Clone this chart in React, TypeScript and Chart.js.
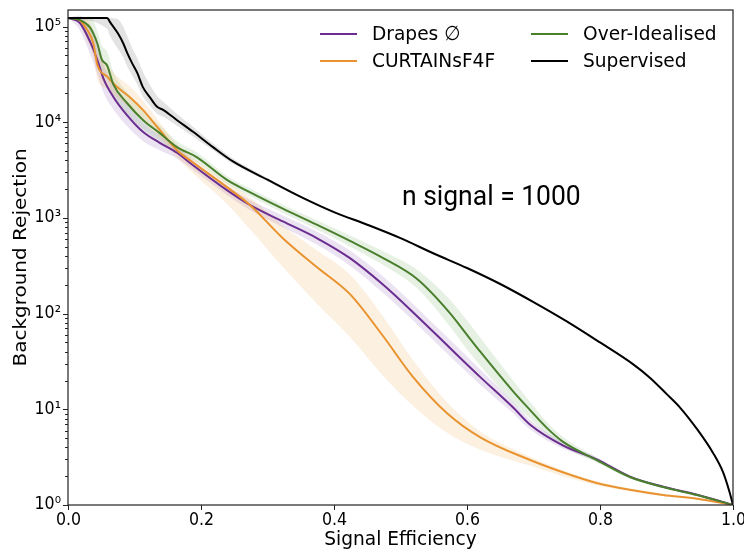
import React, { useEffect, useRef } from "react";
import { Chart, registerables } from "chart.js";

Chart.register(...registerables);

// ---------- data ----------
// Supervised (black)
const supX = [0, 0.059, 0.063, 0.075, 0.083, 0.089, 0.096, 0.104, 0.113, 0.123, 0.134, 0.143, 0.164, 0.188, 0.218, 0.248, 0.3, 0.35, 0.4, 0.45, 0.5, 0.55, 0.6, 0.65, 0.7, 0.75, 0.8, 0.85, 0.875, 0.9, 0.92, 0.946, 0.97, 0.985, 0.995, 1.0];
const supY = [123000, 123000, 112000, 85000, 67000, 53000, 42000, 33000, 23000, 18300, 14500, 13500, 10500, 7950, 5500, 3900, 2510, 1660, 1150, 850, 615, 425, 300, 204, 132, 83, 50, 29.5, 21.4, 14.5, 10.5, 6.2, 3.5, 2.2, 1.35, 1];
const supDown = [1, 1.3, 1.4, 1.45, 1.4, 1.38, 1.35, 1.32, 1.25, 1.22, 1.18, 1.18, 1.14, 1.12, 1.08, 1.06, 1.04, 1.03, 1.02, 1.02, 1.02, 1.02, 1.02, 1.02, 1.02, 1.02, 1.02, 1.02, 1.02, 1.02, 1.02, 1.01, 1.01, 1.01, 1.0, 1.0];
const supUp = [1, 1, 1.1, 1.4, 1.5, 1.5, 1.45, 1.42, 1.45, 1.35, 1.3, 1.22, 1.16, 1.13, 1.09, 1.07, 1.04, 1.03, 1.02, 1.02, 1.02, 1.02, 1.02, 1.02, 1.02, 1.02, 1.02, 1.02, 1.02, 1.02, 1.02, 1.01, 1.01, 1.01, 1.0, 1.0];

// Over-Idealised (green)
const ovX = [0, 0.018, 0.033, 0.044, 0.051, 0.059, 0.068, 0.089, 0.113, 0.138, 0.164, 0.194, 0.239, 0.274, 0.323, 0.374, 0.424, 0.474, 0.525, 0.574, 0.6, 0.62, 0.669, 0.695, 0.72, 0.744, 0.795, 0.845, 0.895, 0.946, 1.0];
const ovY = [123000, 117000, 98000, 67000, 45000, 39000, 25000, 15800, 10500, 7700, 5500, 4300, 2500, 1850, 1250, 850, 575, 380, 230, 102, 60, 40, 15.5, 9.8, 6.4, 4.6, 2.95, 1.96, 1.54, 1.27, 1];
const ovErr = [1, 1.05, 1.3, 1.35, 1.4, 1.4, 1.35, 1.3, 1.25, 1.2, 1.15, 1.12, 1.1, 1.1, 1.1, 1.12, 1.14, 1.18, 1.25, 1.38, 1.42, 1.4, 1.3, 1.22, 1.16, 1.12, 1.06, 1.04, 1.02, 1.01, 1];

// Drapes (purple)
const drX = [0, 0.006, 0.018, 0.033, 0.044, 0.053, 0.068, 0.089, 0.113, 0.138, 0.164, 0.188, 0.239, 0.274, 0.323, 0.374, 0.424, 0.474, 0.525, 0.574, 0.62, 0.669, 0.695, 0.744, 0.795, 0.845, 0.895, 0.946, 1.0];
const drY = [123000, 120000, 109000, 70000, 45000, 29000, 18500, 11800, 7900, 6100, 4800, 3550, 1950, 1360, 920, 617, 380, 200, 94, 44, 21.7, 10.5, 6.9, 4.2, 3.0, 1.98, 1.55, 1.28, 1];
const drErr = [1, 1.05, 1.2, 1.35, 1.4, 1.4, 1.35, 1.3, 1.25, 1.2, 1.15, 1.12, 1.12, 1.13, 1.15, 1.17, 1.2, 1.22, 1.22, 1.22, 1.2, 1.15, 1.12, 1.08, 1.05, 1.03, 1.02, 1.01, 1];

// CURTAINsF4F (orange)
const cuX = [0, 0.014, 0.029, 0.038, 0.044, 0.059, 0.074, 0.093, 0.113, 0.138, 0.164, 0.188, 0.239, 0.274, 0.323, 0.374, 0.424, 0.474, 0.519, 0.57, 0.62, 0.695, 0.744, 0.795, 0.845, 0.895, 0.946, 1.0];
const cuY = [123000, 120000, 92000, 67000, 40000, 30000, 23300, 18300, 13400, 8300, 5100, 3800, 2100, 1360, 615, 307, 160, 58, 21.7, 9.1, 5.1, 2.95, 2.2, 1.7, 1.44, 1.27, 1.16, 1];
const cuUp = [1, 1.05, 1.3, 1.35, 1.4, 1.35, 1.3, 1.3, 1.25, 1.2, 1.15, 1.12, 1.12, 1.2, 1.35, 1.5, 1.6, 1.6, 1.5, 1.3, 1.15, 1.08, 1.05, 1.04, 1.03, 1.02, 1.01, 1];
const cuDown = [1, 1.05, 1.3, 1.35, 1.4, 1.35, 1.3, 1.3, 1.25, 1.2, 1.2, 1.3, 1.5, 1.8, 2.0, 2.4, 2.8, 2.6, 2.0, 1.6, 1.35, 1.15, 1.1, 1.06, 1.04, 1.02, 1.01, 1];

const seriesNames = ["Drapes ∅", "CURTAINsF4F", "Over-Idealised", "Supervised"];
const xTickValues = [0, 0.2, 0.4, 0.6, 0.8, 1.0];
const xTickLabels = ["0.0", "0.2", "0.4", "0.6", "0.8", "1.0"];
const yTickValues = [1, 10, 100, 1000, 10000, 100000];
const yTickLabels = ["10⁰", "10¹", "10²", "10³", "10⁴", "10⁵"];
const xTitle = "Signal Efficiency";
const yTitle = "Background Rejection";
const annotation = "n signal = 1000";

// ---------- styles ----------
const C_PURPLE = "#6b2d8f";
const C_ORANGE = "#e8932f";
const C_GREEN = "#4a7f2d";
const C_BLACK = "#000000";
const SX = 0.93;
const FONT = "'DejaVu Sans', sans-serif";

const pts = (xs: number[], ys: number[]) => xs.map((x, i) => ({ x, y: ys[i] }));
const mul = (xs: number[], ys: number[], f: number[]) => xs.map((x, i) => ({ x, y: ys[i] * f[i] }));
const div = (xs: number[], ys: number[], f: number[]) => xs.map((x, i) => ({ x, y: ys[i] / f[i] }));

function drawText(ctx: CanvasRenderingContext2D, s: string, x: number, y: number, font: string, align: CanvasTextAlign, baseline: CanvasTextBaseline, sx = SX) {
  ctx.save();
  ctx.translate(x, y);
  ctx.scale(sx, 1);
  ctx.font = font;
  ctx.textAlign = align;
  ctx.textBaseline = baseline;
  ctx.fillStyle = "#000";
  ctx.fillText(s, 0, 0);
  ctx.restore();
}

const decor = {
  id: "decor",
  afterDraw(chart: any) {
    const ctx: CanvasRenderingContext2D = chart.ctx;
    const { left, right, top, bottom } = chart.chartArea;
    const xs = chart.scales.x;
    const ys = chart.scales.y;
    ctx.save();
    ctx.strokeStyle = "#222";
    ctx.lineWidth = 1.2;
    ctx.strokeRect(left, top, right - left, bottom - top);
    ctx.lineWidth = 1;
    // x ticks
    xTickValues.forEach((v, i) => {
      const px = Math.round(xs.getPixelForValue(v)) + 0.5;
      ctx.beginPath();
      ctx.moveTo(px, bottom);
      ctx.lineTo(px, bottom + 5);
      ctx.stroke();
      drawText(ctx, xTickLabels[i], px, bottom + 7, `17px ${FONT}`, "center", "top");
    });
    // y minor + major ticks
    for (let n = 0; n <= 5; n++) {
      for (let m = 1; m <= 9; m++) {
        const v = m * Math.pow(10, n);
        if (v > ys.max) break;
        const py = Math.round(ys.getPixelForValue(v)) + 0.5;
        const len = m === 1 ? 5 : 3;
        ctx.beginPath();
        ctx.moveTo(left - len, py);
        ctx.lineTo(left, py);
        ctx.stroke();
      }
    }
    yTickValues.forEach((v, i) => {
      const py = ys.getPixelForValue(v);
      drawText(ctx, yTickLabels[i], left - 7, py, `17px ${FONT}`, "right", "middle");
    });
    // axis titles
    drawText(ctx, xTitle, (left + right) / 2, 540, `20px ${FONT}`, "center", "middle");
    ctx.save();
    ctx.translate(21, (top + bottom) / 2);
    ctx.rotate(-Math.PI / 2);
    ctx.scale(1, 0.88);
    ctx.font = `20px ${FONT}`;
    ctx.textAlign = "center";
    ctx.textBaseline = "middle";
    ctx.fillStyle = "#000";
    ctx.fillText(yTitle, 0, 0);
    ctx.restore();
    // annotation
    drawText(ctx, annotation, 402, 205, "27px Roboto, sans-serif", "left", "alphabetic", 0.98);
    // legend
    const cols = [320, 531];
    const rows = [34, 61];
    const items = [
      { name: seriesNames[0], color: C_PURPLE, c: 0, r: 0 },
      { name: seriesNames[1], color: C_ORANGE, c: 0, r: 1 },
      { name: seriesNames[2], color: C_GREEN, c: 1, r: 0 },
      { name: seriesNames[3], color: C_BLACK, c: 1, r: 1 },
    ];
    items.forEach((it) => {
      const x0 = cols[it.c];
      const y0 = rows[it.r];
      ctx.strokeStyle = it.color;
      ctx.lineWidth = 2;
      ctx.beginPath();
      ctx.moveTo(x0, y0);
      ctx.lineTo(x0 + 37, y0);
      ctx.stroke();
      drawText(ctx, it.name, x0 + 52, y0 + 1, `20px ${FONT}`, "left", "middle");
    });
    ctx.restore();
  },
};

function lineDs(label: string, data: any[], color: string, order: number) {
  return {
    label,
    data,
    borderColor: color,
    backgroundColor: color,
    borderWidth: 2,
    pointRadius: 0,
    fill: false,
    cubicInterpolationMode: "monotone",
    order,
  };
}
function bandDs(label: string, up: any[], down: any[], color: string) {
  return [
    { label: label + " up", data: up, borderWidth: 0, borderColor: "transparent", backgroundColor: color, pointRadius: 0, fill: "+1", cubicInterpolationMode: "monotone", order: 10 },
    { label: label + " down", data: down, borderWidth: 0, borderColor: "transparent", backgroundColor: color, pointRadius: 0, fill: false, cubicInterpolationMode: "monotone", order: 10 },
  ];
}

export default function App() {
  const ref = useRef<HTMLCanvasElement | null>(null);
  useEffect(() => {
    if (!ref.current) return;
    const datasets: any[] = [
      lineDs(seriesNames[0], pts(drX, drY), C_PURPLE, 4),
      lineDs(seriesNames[1], pts(cuX, cuY), C_ORANGE, 3),
      lineDs(seriesNames[2], pts(ovX, ovY), C_GREEN, 2),
      lineDs(seriesNames[3], pts(supX, supY), C_BLACK, 1),
      ...bandDs("sup", mul(supX, supY, supUp), div(supX, supY, supDown), "rgba(0,0,0,0.11)"),
      ...bandDs("cu", mul(cuX, cuY, cuUp), div(cuX, cuY, cuDown), "rgba(240,165,80,0.17)"),
      ...bandDs("dr", mul(drX, drY, drErr), div(drX, drY, drErr), "rgba(130,80,175,0.16)"),
      ...bandDs("ov", mul(ovX, ovY, ovErr), div(ovX, ovY, ovErr), "rgba(100,170,80,0.16)"),
    ];
    const chart = new Chart(ref.current, {
      type: "line",
      data: { datasets },
      options: {
        animation: false,
        responsive: false,
        devicePixelRatio: 1,
        events: [],
        layout: { padding: { left: 68, right: 11, top: 10, bottom: 46 } },
        plugins: { legend: { display: false }, tooltip: { enabled: false } },
        scales: {
          x: { type: "linear", min: 0, max: 1, display: false },
          y: { type: "logarithmic", min: 1, max: 149000, display: false },
        },
      },
      plugins: [decor],
    } as any);
    return () => chart.destroy();
  }, []);
  return (
    <div style={{ position: "fixed", left: 0, top: 0, width: 744, height: 551, background: "#fff" }}>
      <canvas ref={ref} width={744} height={551} />
    </div>
  );
}
